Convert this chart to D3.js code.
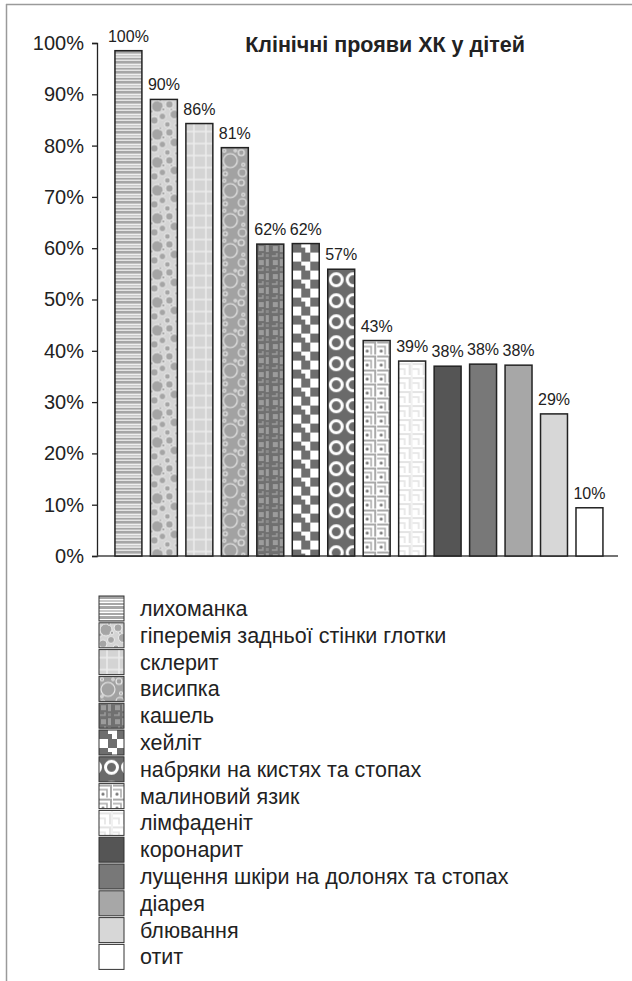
<!DOCTYPE html>
<html><head><meta charset="utf-8">
<script src="https://cdn.jsdelivr.net/npm/d3@7"></script>
<style>body{margin:0;background:#fff}svg{display:block}text{font-family:"Liberation Sans",Arial,sans-serif;fill:#222}</style>
</head><body>
<script>
const categories = ["лихоманка","гіперемія задньої стінки глотки","склерит","висипка","кашель","хейліт","набряки на кистях та стопах","малиновий язик","лімфаденіт","коронарит","лущення шкіри на долонях та стопах","діарея","блювання","отит"];
const values = [98.5, 89.0, 84.3, 79.6, 60.8, 60.9, 55.9, 42.0, 38.0, 37.0, 37.4, 37.2, 27.7, 9.4];
const valueLabels = ["100%","90%","86%","81%","62%","62%","57%","43%","39%","38%","38%","38%","29%","10%"];
const yTicks = [0,10,20,30,40,50,60,70,80,90,100];
const title = "Клінічні прояви ХК у дітей";

const W = 632, H = 981;
const svg = d3.select("body").append("svg").attr("width", W).attr("height", H);
const defs = svg.append("defs");

const x = d3.scaleBand().domain(categories).range([110.7, 607.2]).paddingInner(0.24).paddingOuter(0.12);
const y = d3.scaleLinear().domain([0, 100]).range([556, 43]);

function makePattern(id, i, ox, oy) {
  const sizes = [[4,10],[28,28],[12,12],[26,30],[14,14],[18,18],[17,21],[14,14],[14,14]];
  const [pw, ph] = sizes[i];
  const p = defs.append("pattern").attr("id", id).attr("patternUnits","userSpaceOnUse")
    .attr("x", ox).attr("y", oy).attr("width", pw).attr("height", ph);
  const r = (x0,y0,w,h,f)=>p.append("rect").attr("x",x0).attr("y",y0).attr("width",w).attr("height",h).attr("fill",f);
  const c = (cx,cy,rr,f,s,sw)=>p.append("circle").attr("cx",cx).attr("cy",cy).attr("r",rr).attr("fill",f).attr("stroke",s||"none").attr("stroke-width",sw||0);
  const pa = (d,s,sw)=>p.append("path").attr("d",d).attr("fill","none").attr("stroke",s).attr("stroke-width",sw);
  if (i === 0) {
    r(0,0,pw,ph,"#fff"); r(0,0,pw,3,"#a6a6a6"); r(0,4,pw,2,"#c9c9c9"); r(0,7,pw,2,"#a6a6a6");
  } else if (i === 1) {
    r(0,0,pw,ph,"#d4d4d4");
    [[7,7,6],[19,5,4],[24,15,4.5],[12,17,3.5],[4,21,4],[17,25,3],[26,26,2],[1,12,2],[10,1,1.5],[13,10,1.8],[21,10,1.5]].forEach(d=>c(d[0],d[1],d[2],"#a5a5a5","#ececec",1));
  } else if (i === 2) {
    r(0,0,pw,ph,"#d4d4d4"); pa("M8 0V12","#ececec",1.5); pa("M0 8H12","#ececec",1.5);
  } else if (i === 3) {
    r(0,0,pw,ph,"#a2a2a2");
    [[9,13,7],[3,3,1.5],[20,5,3],[22,17,1.5],[21,25,4],[4,26,2],[14,3,1.2],[3,20,1.2]].forEach(d=>c(d[0],d[1],d[2],"none","#ececec",1.1));
  } else if (i === 4) {
    r(0,0,pw,ph,"#707070"); r(2,2,5,5,"#9c9c9c"); r(9,1,3,7,"#9c9c9c"); pa("M1 12H6V9","#9c9c9c",1.5); r(9,10,3,3,"#8a8a8a");
  } else if (i === 5) {
    r(0,0,pw,ph,"#fff"); r(0,0,9,9,"#6e6e6e"); r(9,9,9,9,"#6e6e6e"); r(9,4,4,5,"#6e6e6e"); r(4,9,5,5,"#fff");
  } else if (i === 6) {
    r(0,0,pw,ph,"#6a6a6a"); c(8.5,10.5,6,"none","#fff",3);
  } else if (i === 7) {
    r(0,0,pw,ph,"#fff"); pa("M0 2H12V14","#a9a9a9",2); pa("M0 6H8V14","#a9a9a9",1.5); c(4,10.5,1.6,"#777");
  } else if (i === 8) {
    r(0,0,pw,ph,"#fff"); pa("M0 3H11V14","#e4e4e4",2); pa("M0 8H6V14","#e4e4e4",1.6); pa("M13 0V14","#e4e4e4",1);
  }
  return "url(#" + id + ")";
}
const solid = ["#555555","#787878","#a7a7a7","#d7d7d7","#ffffff"];
function fillFor(i, id, ox, oy) {
  if (i >= 9) return solid[i - 9];
  return makePattern(id, i, ox, oy);
}

// frame
svg.append("line").attr("x1",6).attr("x2",W).attr("y1",4.5).attr("y2",4.5).attr("stroke","#9a9a9a").attr("stroke-width",1.5);
svg.append("line").attr("x1",6.5).attr("x2",6.5).attr("y1",4).attr("y2",H).attr("stroke","#9a9a9a").attr("stroke-width",1.5);

// y axis
const yAxis = d3.axisLeft(y).tickValues(yTicks).tickFormat(d => d + "%").tickSize(5).tickPadding(8);
const gy = svg.append("g").attr("transform","translate(97,0)").call(yAxis);
gy.select(".domain").attr("stroke","#222").attr("stroke-width",1.3);
gy.selectAll(".tick line").attr("stroke","#222").attr("stroke-width",1.3);
gy.selectAll(".tick text").style("font-size","20px").style("font-family","'Liberation Sans',Arial,sans-serif").attr("fill","#222");

// x axis baseline
svg.append("line").attr("x1",97).attr("x2",618).attr("y1",y(0)).attr("y2",y(0)).attr("stroke","#444").attr("stroke-width",1.3);

// bars
categories.forEach((cat, i) => {
  const bx = x(cat), by = y(values[i]);
  const f = fillFor(i, "bp" + i, bx, by);
  svg.append("rect").attr("x", bx).attr("y", by).attr("width", x.bandwidth()).attr("height", y(0) - by)
    .attr("fill", f).attr("stroke","#222").attr("stroke-width",1.5);
  svg.append("text").attr("x", bx + x.bandwidth()/2).attr("y", by - 9).attr("text-anchor","middle")
    .style("font-size","16px").text(valueLabels[i]);
});

// title
svg.append("text").attr("x",385).attr("y",52).attr("text-anchor","middle").style("font-size","21.5px").style("font-weight","bold").text(title);

// legend
const legY = d3.scaleBand().domain(categories).range([596, 596 + 26.8*14]).paddingInner(0);
categories.forEach((cat, i) => {
  const ly = legY(cat);
  const f = fillFor(i, "lp" + i, i === 6 ? 103 : 99, ly);
  svg.append("rect").attr("x", 99).attr("y", ly).attr("width", 25).attr("height", 25)
    .attr("fill", f).attr("stroke","#333").attr("stroke-width",1);
  svg.append("text").attr("x", 140).attr("y", ly + 12.5).attr("dy","0.35em").style("font-size","21.5px").text(cat);
});
</script>
</body></html>
